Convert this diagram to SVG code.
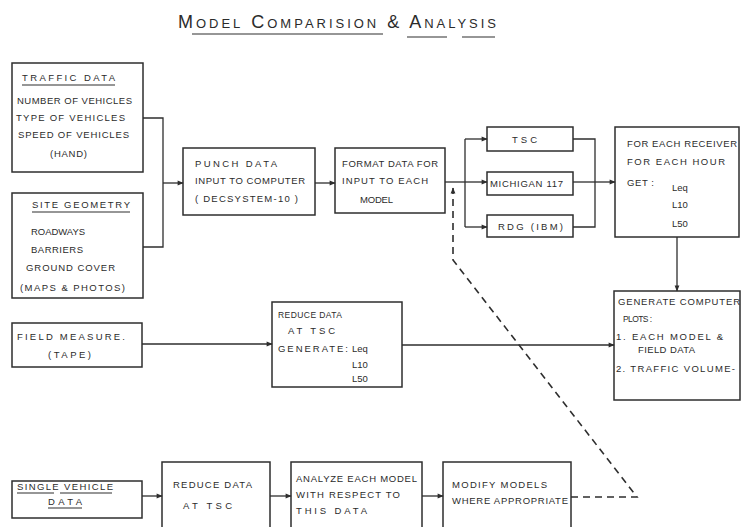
<svg xmlns="http://www.w3.org/2000/svg" width="744" height="527" viewBox="0 0 744 527">
<defs>
<style>
.box{fill:none;stroke:#2e2e2e;stroke-width:1.5}
.ln{fill:none;stroke:#2e2e2e;stroke-width:1.3}
.dash{fill:none;stroke:#2e2e2e;stroke-width:1.6;stroke-dasharray:7 5}
.t{font-family:"Liberation Sans",Arial,sans-serif;font-size:9.5px;fill:#2b2b2b}
.s{font-size:8.5px}
.ttl{font-family:"Liberation Sans",Arial,sans-serif;font-size:18px;font-variant:small-caps;fill:#2b2b2b}
.ul{stroke:#2e2e2e;stroke-width:1.2}
</style>
<marker id="ah" viewBox="0 0 10 10" refX="9" refY="5" markerWidth="7" markerHeight="6" orient="auto" markerUnits="userSpaceOnUse">
<path d="M0,1 L10,5 L0,9 z" fill="#2e2e2e"/>
</marker>
</defs>
<rect width="744" height="527" fill="#ffffff"/>

<g id="title">
<text class="ttl" x="178" y="28" textLength="318" lengthAdjust="spacing">Model Comparision &amp; Analysis</text>
<line class="ul" x1="192" y1="34" x2="383" y2="34"/>
<line class="ul" x1="407" y1="37" x2="447" y2="37"/>
<line class="ul" x1="462" y1="37" x2="495" y2="37"/>
</g>

<g id="traffic-data">
<rect class="box" x="12" y="63" width="131" height="109"/>
<text class="t" x="22" y="81" textLength="93" lengthAdjust="spacing">TRAFFIC DATA</text>
<line class="ul" x1="22" y1="85" x2="115" y2="85"/>
<text class="t" x="17" y="104" textLength="115" lengthAdjust="spacing">NUMBER OF VEHICLES</text>
<text class="t" x="16" y="121" textLength="109" lengthAdjust="spacing">TYPE OF VEHICLES</text>
<text class="t" x="18" y="138" textLength="111" lengthAdjust="spacing">SPEED OF VEHICLES</text>
<text class="t" x="50" y="157" textLength="37" lengthAdjust="spacing">(HAND)</text>
</g>

<g id="site-geometry">
<rect class="box" x="12" y="193" width="131" height="105"/>
<text class="t" x="32" y="208" textLength="98" lengthAdjust="spacing">SITE GEOMETRY</text>
<line class="ul" x1="32" y1="212" x2="130" y2="212"/>
<text class="t" x="31" y="235" textLength="54" lengthAdjust="spacing">ROADWAYS</text>
<text class="t" x="31" y="253" textLength="52" lengthAdjust="spacing">BARRIERS</text>
<text class="t" x="26" y="271" textLength="89" lengthAdjust="spacing">GROUND COVER</text>
<text class="t" x="20" y="291" textLength="105" lengthAdjust="spacing">(MAPS &amp; PHOTOS)</text>
</g>

<g id="field-measure">
<rect class="box" x="12" y="323" width="130" height="44"/>
<text class="t" x="17" y="340" textLength="108" lengthAdjust="spacing">FIELD MEASURE.</text>
<text class="t" x="48" y="358" textLength="43" lengthAdjust="spacing">(TAPE)</text>
</g>

<g id="single-vehicle">
<rect class="box" x="12" y="481" width="130" height="37"/>
<text class="t" x="17" y="490" textLength="96" lengthAdjust="spacing">SINGLE VEHICLE</text>
<line class="ul" x1="17" y1="493" x2="54" y2="493"/>
<line class="ul" x1="60" y1="493" x2="112" y2="493"/>
<text class="t" x="48" y="505" textLength="34" lengthAdjust="spacing">DATA</text>
<line class="ul" x1="48" y1="508" x2="82" y2="508"/>
</g>

<g id="punch-data">
<rect class="box" x="183" y="148" width="132" height="67"/>
<text class="t" x="195" y="167" textLength="82" lengthAdjust="spacing">PUNCH DATA</text>
<text class="t" x="195" y="184" textLength="110" lengthAdjust="spacing">INPUT TO COMPUTER</text>
<text class="t" x="195" y="202" textLength="103" lengthAdjust="spacing">( DECSYSTEM-10 )</text>
</g>

<g id="format-data">
<rect class="box" x="335" y="148" width="110" height="65"/>
<text class="t" x="342" y="167" textLength="96" lengthAdjust="spacing">FORMAT DATA FOR</text>
<text class="t" x="342" y="184" textLength="86" lengthAdjust="spacing">INPUT TO EACH</text>
<text class="t" x="360" y="203" textLength="33" lengthAdjust="spacing">MODEL</text>
</g>

<g id="model-tsc">
<rect class="box" x="487" y="127" width="86" height="24"/>
<text class="t" x="512" y="143" textLength="25" lengthAdjust="spacing">TSC</text>
</g>

<g id="model-michigan">
<rect class="box" x="487" y="172" width="86" height="23"/>
<text class="t" x="490" y="187" textLength="73" lengthAdjust="spacing">MICHIGAN 117</text>
</g>

<g id="model-rdg">
<rect class="box" x="487" y="215" width="86" height="22"/>
<text class="t" x="498" y="230" textLength="65" lengthAdjust="spacing">RDG (IBM)</text>
</g>

<g id="for-each">
<rect class="box" x="615" y="127" width="124" height="110"/>
<text class="t" x="627" y="147" textLength="110" lengthAdjust="spacing">FOR EACH RECEIVER</text>
<text class="t" x="627" y="165" textLength="98" lengthAdjust="spacing">FOR EACH HOUR</text>
<text class="t" x="627" y="186" textLength="27" lengthAdjust="spacing">GET :</text>
<text class="t" x="672" y="191">Leq</text>
<text class="t" x="672" y="208">L10</text>
<text class="t" x="672" y="227">L50</text>
</g>

<g id="reduce-field">
<rect class="box" x="272" y="302" width="130" height="85"/>
<text class="t s" x="278" y="318" textLength="64" lengthAdjust="spacing">REDUCE DATA</text>
<text class="t" x="288" y="334" textLength="47" lengthAdjust="spacing">AT TSC</text>
<text class="t" x="278" y="352" textLength="70" lengthAdjust="spacing">GENERATE:</text>
<text class="t" x="352" y="352">Leq</text>
<text class="t" x="352" y="368">L10</text>
<text class="t" x="352" y="382">L50</text>
</g>

<g id="generate-plots">
<rect class="box" x="614" y="291" width="126" height="109"/>
<text class="t" x="618" y="305" textLength="122" lengthAdjust="spacing">GENERATE COMPUTER</text>
<text class="t s" x="623" y="322" textLength="29" lengthAdjust="spacing">PLOTS :</text>
<text class="t" x="616" y="340" textLength="107" lengthAdjust="spacing">1. EACH MODEL &amp;</text>
<text class="t" x="638" y="353" textLength="57" lengthAdjust="spacing">FIELD DATA</text>
<text class="t" x="616" y="372" textLength="119" lengthAdjust="spacing">2. TRAFFIC VOLUME-</text>
</g>

<g id="reduce-single">
<rect class="box" x="162" y="462" width="108" height="80"/>
<text class="t" x="173" y="488" textLength="79" lengthAdjust="spacing">REDUCE DATA</text>
<text class="t" x="183" y="509" textLength="49" lengthAdjust="spacing">AT TSC</text>
</g>

<g id="analyze">
<rect class="box" x="291" y="462" width="131" height="80"/>
<text class="t" x="296" y="482" textLength="121" lengthAdjust="spacing">ANALYZE EACH MODEL</text>
<text class="t" x="296" y="498" textLength="104" lengthAdjust="spacing">WITH RESPECT TO</text>
<text class="t" x="296" y="514" textLength="71" lengthAdjust="spacing">THIS DATA</text>
</g>

<g id="modify">
<rect class="box" x="443" y="462" width="128" height="80"/>
<text class="t" x="452" y="488" textLength="95" lengthAdjust="spacing">MODIFY MODELS</text>
<text class="t" x="452" y="504" textLength="116" lengthAdjust="spacing">WHERE APPROPRIATE</text>
</g>

<g id="connectors">
<polyline class="ln" points="143,118 163,118 163,247 143,247"/>
<line class="ln" x1="163" y1="183" x2="183" y2="183" marker-end="url(#ah)"/>
<line class="ln" x1="315" y1="183" x2="335" y2="183" marker-end="url(#ah)"/>
<line class="ln" x1="445" y1="182" x2="465" y2="182"/>
<line class="ln" x1="465" y1="139" x2="465" y2="227"/>
<line class="ln" x1="465" y1="139" x2="487" y2="139" marker-end="url(#ah)"/>
<line class="ln" x1="465" y1="182" x2="487" y2="182" marker-end="url(#ah)"/>
<line class="ln" x1="465" y1="227" x2="487" y2="227" marker-end="url(#ah)"/>
<polyline class="ln" points="573,139 595,139 595,227 573,227"/>
<line class="ln" x1="573" y1="182" x2="595" y2="182"/>
<line class="ln" x1="595" y1="182" x2="615" y2="182" marker-end="url(#ah)"/>
<line class="ln" x1="677" y1="237" x2="677" y2="291" marker-end="url(#ah)"/>
<line class="ln" x1="142" y1="344" x2="272" y2="344" marker-end="url(#ah)"/>
<line class="ln" x1="402" y1="345" x2="614" y2="345" marker-end="url(#ah)"/>
<line class="ln" x1="142" y1="496" x2="162" y2="496" marker-end="url(#ah)"/>
<line class="ln" x1="270" y1="496" x2="291" y2="496" marker-end="url(#ah)"/>
<line class="ln" x1="422" y1="496" x2="443" y2="496" marker-end="url(#ah)"/>
<polyline class="dash" points="571,497 637,497 453,260 453,188" marker-end="url(#ah)"/>
</g>
</svg>
